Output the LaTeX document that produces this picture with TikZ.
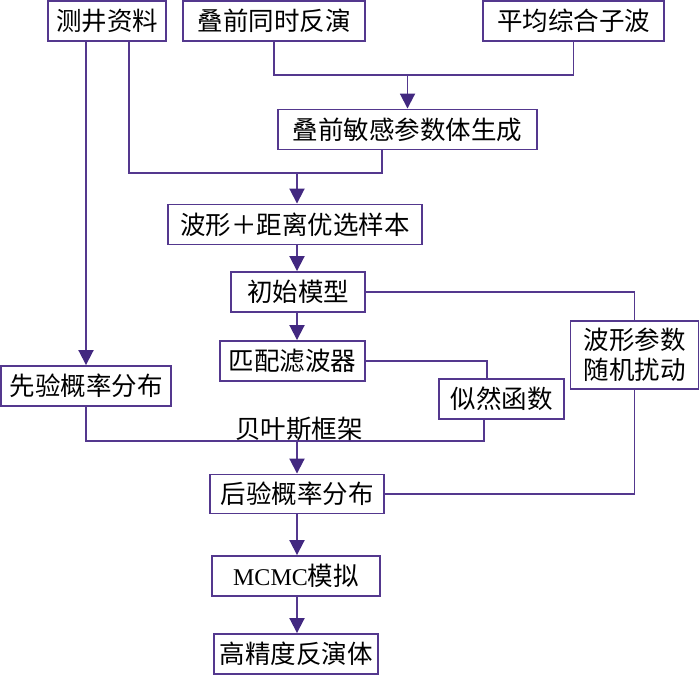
\documentclass[tikz,border=0pt]{standalone}
\usepackage{fontspec}
\setmainfont{Liberation Serif}
\newfontfamily\cjk{Noto Sans CJK SC}
\usetikzlibrary{arrows.meta, calc}
\definecolor{boxline}{RGB}{84,56,142}
\definecolor{tipfill}{RGB}{66,40,128}
\tikzset{
  stepbox/.style={draw=boxline, line width=1.9pt, fill=white, inner sep=0pt,
    minimum height=40pt, font=\cjk\fontsize{25.5}{30}\selectfont, align=center},
  link/.style={draw=boxline, line width=1.9pt},
  arr/.style={link, -{Triangle[length=15pt,width=15pt,fill=tipfill,color=tipfill]}}
}

\begin{document}
\begin{tikzpicture}[x=1pt,y=-1pt]
    \useasboundingbox (0,0) rectangle (700,676);
    % Inputs
    \node[stepbox, minimum width=118pt] (well) at (107,21) {测井资料};
    \node[stepbox, minimum width=182pt] (inv) at (274,21) {叠前同时反演};
    \node[stepbox, minimum width=181pt] (wavelet) at (573.5,21) {平均综合子波};

    % Main column
    \node[stepbox, minimum width=259pt] (sens) at (407.5,129.5) {叠前敏感参数体生成};
    \node[stepbox, minimum width=254pt] (sample) at (295,224.5) {波形＋距离优选样本};
    \node[stepbox, minimum width=134pt] (init) at (298,292) {初始模型};
    \node[stepbox, minimum width=145pt] (filter) at (292.5,361) {匹配滤波器};
    \node[stepbox, minimum width=170pt] (prior) at (86,386) {先验概率分布};
    \node[stepbox, minimum width=125pt] (like) at (501.5,399) {似然函数};
    \node[stepbox, minimum width=128pt, minimum height=68pt] (perturb) at (634.5,355) {波形参数\\随机扰动};
    \node[stepbox, minimum width=174pt, minimum height=39pt] (post) at (297,494) {后验概率分布};
    \node[stepbox, minimum width=168pt] (mcmc) at (296,576) {{\rmfamily\fontsize{24}{29}\selectfont MCMC}模拟};
    \node[stepbox, minimum width=164pt] (final) at (296,654) {高精度反演体};

    % Joints
    \coordinate (j1) at (407.5,75);
    \coordinate (j2) at (297,173);
    \coordinate (j3) at (297,441);

    % Connectors
    \draw[link] (inv.south) |- (j1) -| (wavelet.south);
    \draw[arr] (j1) -- (sens.north);
    \draw[link] ([xshift=22pt]well.south) |- (j2) -| ([xshift=-25.5pt]sens.south);
    \draw[arr] (j2) -- (j2 |- sample.north);
    \draw[arr] (j2 |- sample.south) -- (j2 |- init.north);
    \draw[arr] (j2 |- init.south) -- (j2 |- filter.north);
    \draw[arr] (prior.north |- well.south) -- (prior.north);
    \draw[link] (init.east) -| (perturb.north);
    \draw[link] (filter.east) -| ([xshift=-14.5pt]like.north);
    \draw[link] (prior.south) |- (j3) -| ([xshift=-17.5pt]like.south);
    \node[font=\cjk\fontsize{25.5}{30}\selectfont, inner sep=0pt] (bayes) at (299,429) {贝叶斯框架};
    \draw[arr] (j3) -- (j3 |- post.north);
    \draw[link] (perturb.south) |- (post.east);
    \draw[arr] (j3 |- post.south) -- (j3 |- mcmc.north);
    \draw[arr] (j3 |- mcmc.south) -- (j3 |- final.north);
\end{tikzpicture}
\end{document}
